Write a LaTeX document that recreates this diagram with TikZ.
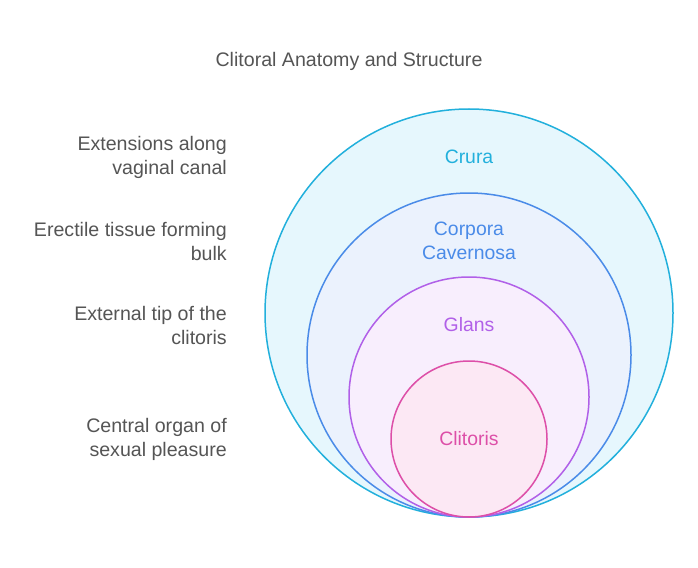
\documentclass[tikz,border=0pt]{standalone}
\usepackage{fontspec}
\setmainfont{Liberation Sans}
\definecolor{c1s}{HTML}{22B0DC}
\definecolor{c1f}{HTML}{E6F7FD}
\definecolor{c2s}{HTML}{4A8BE8}
\definecolor{c2f}{HTML}{EBF2FD}
\definecolor{c3s}{HTML}{B160E8}
\definecolor{c3f}{HTML}{F8EEFD}
\definecolor{c4s}{HTML}{DD4FA8}
\definecolor{c4f}{HTML}{FCE8F4}
\definecolor{txt}{HTML}{555555}
\tikzset{
  ring/.style={line width=1.5pt},
  side/.style={anchor=east, align=right, text=txt, font=\fontsize{19.6}{24}\selectfont, inner sep=0pt},
  inlab/.style={align=center, font=\fontsize{19.4}{24}\selectfont, inner sep=0pt}
}
\begin{document}
\begin{tikzpicture}[x=1pt,y=-1pt]
\useasboundingbox (0,0) rectangle (698,567);
\fill[white] (0,0) rectangle (698,567);
\node[font=\fontsize{19.6}{24}\selectfont, text=txt, inner sep=0pt] (title) at (349,61) {Clitoral Anatomy and Structure};
\draw[ring, draw=c1s, fill=c1f] (469,313) circle (204);
\draw[ring, draw=c2s, fill=c2f] (469,355) circle (162);
\draw[ring, draw=c3s, fill=c3f] (469,397) circle (120);
\draw[ring, draw=c4s, fill=c4f] (469,439) circle (78);
\node[inlab, text=c1s] (crura) at (469,157) {Crura};
\node[inlab, text=c2s] (corpora) at (469,241) {Corpora\\Cavernosa};
\node[inlab, text=c3s] (glans) at (469,325) {Glans};
\node[inlab, text=c4s] (clit) at (469,439) {Clitoris};
\node[side] (l1) at (227,157) {Extensions along\\vaginal canal};
\node[side] (l2) at (227,241) {Erectile tissue forming\\bulk};
\node[side] (l3) at (227,325) {External tip of the\\clitoris};
\node[side] (l4) at (227,439) {Central organ of\\sexual pleasure};
\end{tikzpicture}
\end{document}
